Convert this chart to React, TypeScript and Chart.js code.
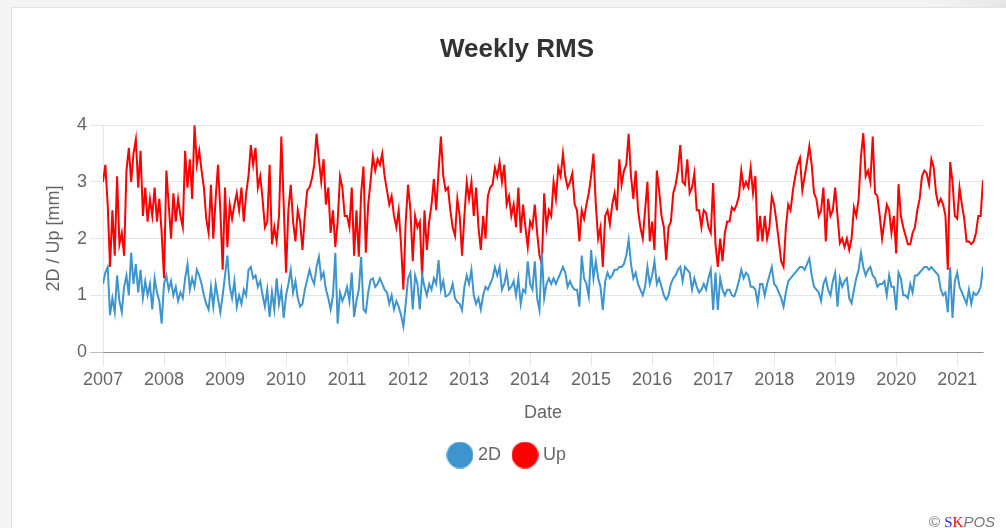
import React, { useEffect, useRef } from 'react';
import { Chart, registerables } from 'chart.js';

Chart.register(...registerables);

// ---- data (~2 samples per month) ----
const startYear = 2007;
const samplesPerYear = 26;
const yearTicks = [2007, 2008, 2009, 2010, 2011, 2012, 2013, 2014, 2015, 2016, 2017, 2018, 2019, 2020, 2021];
const yTicks = [0, 1, 2, 3, 4];
const seriesNames = ['2D', 'Up'];
const seriesColors = ['#3e95cd', '#ff0000'];

const upValues: number[] = [
  // 2007
  3.0, 3.3, 2.6, 1.5, 2.5, 1.7, 3.1, 1.9, 2.1, 1.7, 3.2, 3.6, 3.0, 3.5, 3.75, 2.9, 3.55, 2.4, 2.9, 2.3, 2.7, 2.4, 2.9, 2.3, 2.7, 2.1,
  // 2008
  1.3, 3.2, 2.6, 2.0, 2.8, 2.3, 2.7, 2.4, 2.2, 3.55, 2.9, 3.4, 2.7, 4.0, 3.3, 3.55, 3.2, 2.9, 2.35, 2.1, 2.95, 2.0, 2.7, 3.3, 2.5, 1.45,
  // 2009
  2.9, 1.85, 2.6, 2.35, 2.6, 2.8, 2.5, 2.9, 2.3, 2.8, 3.1, 3.65, 3.3, 3.6, 2.9, 3.1, 2.7, 2.2, 2.3, 3.3, 1.9, 2.2, 1.95, 2.4, 3.8, 2.6,
  // 2010
  1.4, 2.5, 2.95, 2.3, 1.95, 2.5, 2.3, 1.8, 2.4, 2.85, 2.9, 3.05, 3.3, 3.85, 3.4, 3.0, 3.4, 2.6, 2.9, 2.1, 2.5, 1.85, 2.3, 3.1, 2.9, 2.4,
  // 2011
  2.4, 2.2, 2.9, 1.7, 2.5, 1.68, 2.8, 3.27, 1.75, 2.6, 3.0, 3.45, 3.2, 3.4, 3.3, 3.5, 3.1, 2.85, 2.6, 2.75, 2.4, 2.2, 2.5, 1.9, 1.1, 2.3,
  // 2012
  2.95, 2.5, 1.6, 2.4, 2.2, 2.3, 1.3, 2.5, 1.8, 2.3, 2.6, 3.05, 2.5, 3.2, 3.8, 3.1, 2.85, 2.9, 2.5, 2.2, 2.05, 2.7, 2.4, 1.7, 2.4, 3.0,
  // 2013
  2.7, 3.0, 2.4, 2.9, 2.2, 1.8, 2.4, 2.0, 2.75, 2.9, 2.95, 3.25, 3.1, 3.35, 3.0, 3.3, 2.6, 2.75, 2.4, 2.6, 2.2, 2.9, 2.1, 2.6, 2.2, 1.85,
  // 2014
  2.3, 2.2, 2.6, 2.1, 1.7, 1.55, 2.8, 2.2, 2.5, 2.4, 3.0, 2.7, 3.25, 3.1, 3.5, 3.1, 2.9, 3.0, 3.15, 2.6, 2.5, 1.95, 2.5, 2.35, 2.6, 2.8,
  // 2015
  3.1, 3.5, 2.6, 2.0, 2.2, 1.5, 2.4, 2.5, 2.25, 2.6, 2.8, 2.5, 3.4, 2.95, 3.2, 3.3, 3.85, 3.1, 2.7, 3.2, 2.5, 2.2, 2.0, 2.5, 3.0, 1.95,
  // 2016
  2.3, 1.8, 3.2, 2.85, 2.4, 2.2, 1.62, 2.2, 2.3, 2.8, 2.95, 3.2, 3.65, 3.0, 2.95, 3.4, 2.8, 2.9, 3.15, 2.5, 2.5, 2.2, 2.5, 2.45, 2.2, 2.1,
  // 2017
  2.98, 1.9, 1.5, 2.0, 1.6, 2.1, 2.3, 2.3, 2.55, 2.5, 2.6, 2.75, 3.2, 2.9, 3.0, 2.9, 3.25, 2.8, 3.1, 1.95, 2.4, 1.95, 2.4, 2.0, 2.2, 2.75,
  // 2018
  2.6, 2.3, 1.95, 1.6, 1.5, 2.2, 2.6, 2.5, 2.85, 3.1, 3.3, 3.42, 2.85, 3.1, 3.35, 3.63, 3.3, 2.8, 2.7, 2.4, 2.5, 2.9, 1.95, 2.7, 2.4, 2.5,
  // 2019
  2.9, 2.4, 1.92, 2.0, 1.85, 2.0, 1.8, 2.0, 2.55, 2.4, 2.7, 3.45, 3.86, 3.1, 3.2, 3.0, 3.8, 2.8, 2.75, 2.4, 2.0, 2.3, 2.6, 2.5, 2.1, 2.4,
  // 2020
  1.74, 2.96, 2.4, 2.2, 2.05, 1.9, 1.9, 2.1, 2.2, 2.5, 2.7, 3.1, 3.2, 3.15, 2.95, 3.4, 3.25, 2.8, 2.6, 2.7, 2.6, 2.4, 1.45, 3.35, 3.0, 2.4,
  // 2021
  2.35, 2.9, 2.6, 2.35, 1.95, 1.95, 1.9, 1.95, 2.1, 2.4, 2.4, 3.03,
];

const twoDValues: number[] = [
  // 2007
  1.2, 1.4, 1.5, 0.65, 0.95, 0.7, 1.35, 0.9, 0.7, 1.15, 1.35, 1.0, 1.75, 1.2, 1.55, 1.05, 1.45, 0.95, 1.25, 1.0, 1.2, 0.75, 1.3, 1.05, 0.9, 0.5,
  // 2008
  1.2, 1.35, 1.1, 1.25, 1.0, 1.15, 0.9, 1.05, 0.95, 1.3, 1.55, 1.1, 1.3, 1.15, 1.45, 1.35, 1.2, 1.0, 0.85, 0.75, 1.15, 0.8, 1.2, 0.95, 0.7, 1.0,
  // 2009
  1.35, 1.7, 1.15, 0.95, 1.25, 0.8, 1.0, 0.85, 1.1, 1.0, 1.45, 1.5, 1.3, 1.35, 1.15, 1.25, 1.0, 0.8, 1.1, 0.62, 1.05, 0.75, 1.3, 0.85, 1.1, 0.6,
  // 2010
  1.0, 1.2, 1.45, 1.05, 1.25, 0.95, 0.8, 0.85, 1.1, 1.27, 1.45, 1.3, 1.2, 1.5, 1.68, 1.3, 1.4, 1.1, 0.95, 0.75, 1.0, 1.75, 0.5, 1.05, 0.9, 1.0,
  // 2011
  1.15, 0.9, 1.4, 0.62, 0.9, 1.1, 1.68, 0.75, 0.7, 1.05, 1.27, 1.3, 1.15, 1.2, 1.3, 1.2, 1.1, 1.05, 0.85, 1.0, 0.75, 0.9, 0.8, 0.65, 0.45, 0.85,
  // 2012
  1.3, 1.4, 0.75, 1.35, 1.2, 0.75, 1.35, 1.15, 1.0, 1.2, 1.1, 1.3, 1.2, 1.62, 1.1, 1.25, 0.98, 1.0, 1.05, 1.2, 0.95, 0.88, 0.85, 0.74, 1.15, 1.35,
  // 2013
  1.2, 1.45, 1.0, 0.85, 0.95, 0.75, 1.0, 1.15, 1.1, 1.2, 1.3, 1.5, 1.35, 1.5, 1.1, 1.2, 1.4, 1.1, 1.15, 1.25, 1.0, 1.3, 0.85, 1.1, 1.05, 1.6,
  // 2014
  1.2, 1.1, 1.6, 0.95, 0.74, 1.75, 0.95, 1.2, 1.3, 1.2, 1.3, 1.2, 1.3, 1.4, 1.5, 1.4, 1.15, 1.25, 1.15, 1.1, 1.1, 0.8, 1.7, 1.3, 1.2, 0.98,
  // 2015
  1.8, 1.3, 1.6, 1.3, 1.15, 0.74, 1.25, 1.4, 1.3, 1.35, 1.45, 1.45, 1.5, 1.5, 1.55, 1.7, 1.98, 1.55, 1.3, 1.4, 1.2, 1.1, 1.0, 1.15, 1.5, 1.2,
  // 2016
  1.35, 1.6, 1.2, 1.3, 1.15, 1.0, 0.92, 1.0, 1.2, 1.3, 1.35, 1.45, 1.5, 1.25, 1.5, 1.45, 1.4, 1.1, 1.3, 1.15, 1.05, 1.1, 1.2, 1.1, 1.3, 1.45,
  // 2017
  0.74, 1.4, 0.74, 1.3, 1.1, 1.0, 1.1, 1.1, 1.0, 0.98, 1.1, 1.25, 1.45, 1.3, 1.4, 1.35, 1.15, 1.15, 1.1, 0.86, 1.2, 1.2, 1.0, 1.2, 1.35, 1.5,
  // 2018
  1.2, 1.15, 1.05, 0.95, 0.8, 1.05, 1.25, 1.3, 1.35, 1.4, 1.45, 1.5, 1.5, 1.45, 1.55, 1.65, 1.35, 1.15, 1.1, 1.05, 0.9, 1.2, 1.3, 1.1, 1.0, 1.25,
  // 2019
  1.4, 0.8, 1.3, 1.15, 1.25, 1.3, 0.95, 0.86, 1.1, 1.3, 1.45, 1.75, 1.5, 1.35, 1.45, 1.5, 1.35, 1.3, 1.15, 1.2, 1.2, 1.25, 1.0, 1.35, 1.15, 1.15,
  // 2020
  0.74, 1.4, 1.3, 1.0, 1.0, 0.95, 1.2, 1.05, 1.35, 1.35, 1.4, 1.45, 1.5, 1.5, 1.45, 1.5, 1.45, 1.4, 1.35, 1.1, 1.0, 1.05, 0.7, 1.5, 0.6, 1.25,
  // 2021
  1.4, 1.15, 1.05, 0.95, 0.85, 1.1, 0.85, 1.05, 1.0, 1.05, 1.15, 1.5,
];

// sample dates as fractional years
const xValues = upValues.map((_, i) => startYear + i / samplesPerYear);

const FONT = '"Liberation Sans", Arial, Helvetica, sans-serif';

export default function App() {
  const canvasRef = useRef<HTMLCanvasElement>(null);

  useEffect(() => {
    const canvas = canvasRef.current;
    if (!canvas) return;

    const makeDot = (color: string) => {
      const c = document.createElement('canvas');
      c.width = 27;
      c.height = 27;
      const g = c.getContext('2d')!;
      g.fillStyle = color;
      g.beginPath();
      g.arc(13.5, 13.5, 13.3, 0, Math.PI * 2);
      g.fill();
      return c;
    };
    const dots = seriesColors.map(makeDot);

    const shiftLegend = {
      id: 'shiftLegend',
      afterLayout(chart: any) {
        const lg = chart.legend;
        if (lg) {
          lg.left -= 8.5;
          lg.right -= 8.5;
        }
      },
    };

    const series = [twoDValues, upValues];

    const chart = new Chart(canvas, {
      type: 'line',
      data: {
        datasets: series.map((vals, s) => ({
          label: seriesNames[s],
          data: vals.map((v, i) => ({ x: xValues[i], y: v })),
          borderColor: seriesColors[s],
          backgroundColor: seriesColors[s],
          borderWidth: 2,
          pointRadius: 0,
          pointHoverRadius: 0,
          tension: 0,
          fill: false,
        })),
      },
      options: {
        animation: false,
        responsive: false,
        devicePixelRatio: 1,
        layout: { padding: { left: 0, right: 0, top: 0, bottom: 54 } },
        plugins: {
          title: {
            display: true,
            text: 'Weekly RMS',
            color: '#333',
            font: { family: FONT, size: 26, weight: 'bold' },
            padding: { top: 26, bottom: 60 },
          },
          legend: {
            display: true,
            position: 'bottom',
            labels: {
              color: '#666',
              font: { family: FONT, size: 18 },
              usePointStyle: true,
              pointStyleWidth: 18,
              padding: 15,
              generateLabels: (ch: any) => {
                const items = (Chart.defaults.plugins.legend.labels as any).generateLabels(ch);
                return items.map((it: any, i: number) => ({ ...it, pointStyle: dots[i] }));
              },
            },
          },
          tooltip: { enabled: false },
        },
        scales: {
          x: {
            type: 'linear',
            min: startYear,
            max: xValues[xValues.length - 1],
            afterBuildTicks: (scale: any) => {
              scale.ticks = yearTicks.map((v) => ({ value: v }));
            },
            afterFit: (scale: any) => {
              scale.height = 79;
            },
            ticks: {
              color: '#666',
              font: { family: FONT, size: 18 },
              padding: 3,
              maxRotation: 0,
              autoSkip: false,
              callback: (v: any) => String(v),
            },
            grid: {
              drawOnChartArea: false,
              drawTicks: true,
              tickLength: 14,
              color: 'rgba(0,0,0,0.1)',
            },
            border: { display: true, color: 'rgba(0,0,0,0.25)' },
            title: {
              display: true,
              text: 'Date',
              color: '#666',
              font: { family: FONT, size: 18 },
              padding: { top: 0, bottom: 7 },
            },
          },
          y: {
            type: 'linear',
            position: 'left',
            min: 0,
            max: 4,
            afterBuildTicks: (scale: any) => {
              scale.ticks = yTicks.map((v) => ({ value: v }));
            },
            afterFit: (scale: any) => {
              scale.width = 91;
            },
            ticks: {
              color: '#666',
              font: { family: FONT, size: 18 },
              padding: 3,
              callback: (v: any) => String(v),
            },
            grid: {
              drawTicks: true,
              tickLength: 13,
              color: (ctx: any) =>
                ctx.tick && ctx.tick.value === 0 ? 'rgba(0,0,0,0.25)' : 'rgba(0,0,0,0.1)',
            },
            border: { display: true, color: 'rgba(0,0,0,0.1)' },
            title: {
              display: true,
              text: '2D / Up [mm]',
              color: '#666',
              font: { family: FONT, size: 18 },
              padding: { top: 31, bottom: 0 },
            },
          },
          yRight: {
            type: 'linear',
            position: 'right',
            display: true,
            afterFit: (scale: any) => {
              scale.width = 39;
            },
            grid: { display: false },
            border: { display: false },
            ticks: { display: false },
          },
        },
      } as any,
      plugins: [shiftLegend],
    });

    return () => chart.destroy();
  }, []);

  return (
    <div
      style={{
        position: 'fixed',
        left: 0,
        top: 0,
        width: 1006,
        height: 528,
        overflow: 'hidden',
        background: 'linear-gradient(to right, #f4f4f4 0%, #f4f4f4 92%, #e6e6e6 100%)',
      }}
    >
      <div
        style={{
          position: 'absolute',
          left: 11,
          top: 7,
          width: 1100,
          height: 600,
          background: '#ffffff',
          border: '1px solid #e2e2e2',
        }}
      />
      <div style={{ position: 'absolute', left: 12, top: 8, width: 994, height: 520, overflow: 'hidden' }}>
        <canvas ref={canvasRef} width={1010} height={520} style={{ display: 'block', width: 1010, height: 520 }} />
      </div>
      <div
        style={{
          position: 'absolute',
          left: 929,
          top: 514,
          fontFamily: FONT,
          fontSize: 15,
          lineHeight: '15px',
          color: '#777',
          whiteSpace: 'nowrap',
        }}
      >
        ©{' '}
        <span style={{ fontFamily: '"Liberation Serif", "Times New Roman", serif', color: '#2b2bff' }}>S</span>
        <span style={{ fontFamily: '"Liberation Serif", "Times New Roman", serif', color: '#ff0000' }}>K</span>
        <span style={{ fontStyle: 'italic' }}>POS</span>
      </div>
    </div>
  );
}
